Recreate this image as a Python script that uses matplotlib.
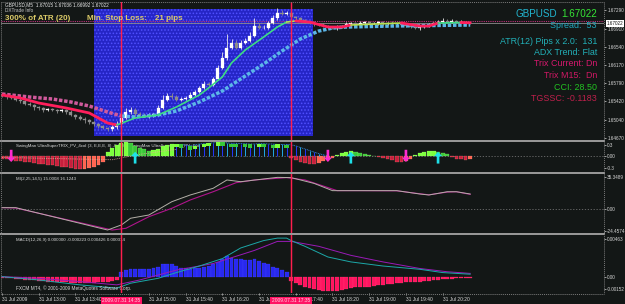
import numpy as np
import matplotlib
matplotlib.use("Agg")
import matplotlib.pyplot as plt
from matplotlib.patches import Rectangle
from matplotlib.lines import Line2D
import matplotlib.transforms as mtransforms

plt.rcParams['font.family'] = ['Liberation Sans', 'DejaVu Sans']
plt.rcParams['hatch.linewidth'] = 0.7

# ---------------- data ----------------
first_open = 1.6555
closes = [1.6553, 1.6551, 1.6549, 1.6545, 1.6543, 1.6537, 1.6535, 1.6530, 1.6528, 1.6524,
          1.6526, 1.6524, 1.6522, 1.6524, 1.6520, 1.6514, 1.6510, 1.6506, 1.6504, 1.6499,
          1.6495, 1.6491, 1.6487, 1.6485, 1.6489,
          1.6495, 1.6507, 1.6519, 1.6524, 1.6515, 1.6514, 1.6511, 1.6514, 1.6515, 1.6528,
          1.6545, 1.6553, 1.6551, 1.6545, 1.6547, 1.6549, 1.6555, 1.6561, 1.6569, 1.6577,
          1.6575, 1.6588, 1.6611, 1.6631, 1.6652, 1.6662, 1.6652, 1.6662, 1.6666, 1.6676,
          1.6697, 1.6693, 1.6693, 1.6703, 1.6713, 1.6724, 1.6722, 1.6724,
          1.6715, 1.6713, 1.6709, 1.6705, 1.6703, 1.6701, 1.6699, 1.6697, 1.6695, 1.6692,
          1.6695, 1.6697, 1.6701, 1.6703, 1.6701, 1.6703, 1.6705, 1.6703, 1.6703, 1.6705,
          1.6703, 1.6703, 1.6701, 1.6701, 1.6699, 1.6697, 1.6695, 1.6692, 1.6695, 1.6697,
          1.6699, 1.6703, 1.6705, 1.6707, 1.6705, 1.6707, 1.6705, 1.6705, 1.6703, 1.67022]
wick_hi_pips = [3, 2, 3, 2, 3, 2, 4, 2, 3, 2, 3, 2, 2, 3, 2, 3, 2, 4, 3, 2, 3, 2, 3, 2, 4,
                6, 8, 10, 6, 5, 4, 3, 4, 3, 6, 10, 6, 5, 4, 3, 4, 6, 4, 5, 6, 4, 3, 6, 12, 28,
                8, 6, 5, 6, 8, 16, 6, 5, 4, 6, 10, 6, 4,
                3, 2, 3, 2, 2, 3, 2, 3, 2, 2, 3, 2, 3, 2, 2, 4, 2, 3, 2, 3, 2, 2, 3, 2, 4, 3,
                2, 3, 2, 2, 3, 2, 5, 6, 4, 5, 3, 4, 3, 2]
wick_lo_pips = [3, 4, 3, 2, 4, 3, 2, 5, 3, 4, 2, 3, 4, 3, 5, 3, 4, 3, 6, 3, 4, 5, 3, 4, 5,
                4, 3, 2, 3, 4, 3, 2, 3, 4, 3, 2, 3, 4, 2, 3, 2, 3, 2, 3, 2, 3, 2, 3, 2, 4,
                3, 2, 3, 2, 3, 2, 3, 2, 3, 2, 3, 2, 3,
                2, 3, 2, 3, 2, 4, 3, 2, 3, 2, 3, 2, 3, 2, 3, 2, 4, 3, 2, 5, 6, 4, 3, 2, 3, 2,
                3, 2, 3, 2, 3, 2, 2, 3, 2, 3, 2, 3, 2, 2]

# fast moving average (polyline vertices) and its colour states
fast_ma_i = [0, 4, 8, 14, 19, 23, 25, 29, 34, 38, 43, 45, 48, 50, 53, 57, 60, 62, 64, 67,
             71, 74, 76, 87, 91, 93, 95, 100, 102]
fast_ma_v = [1.65549, 1.65487, 1.65384, 1.65281, 1.65179, 1.64973, 1.64932, 1.65076, 1.65137,
             1.65302, 1.65549, 1.65693, 1.65919, 1.66207, 1.66474, 1.66741, 1.66947, 1.67049,
             1.67070, 1.67049, 1.66947, 1.66947, 1.66988, 1.67029, 1.66967, 1.66967, 1.67029,
             1.67039, 1.67033]
fast_ma_states = [(0, 25, 'down'), (25, 62, 'up'), (62, 64, 'flat'), (64, 76, 'down'),
                  (76, 87, 'flat'), (87, 95, 'down'), (95, 100, 'up'), (100, 102, 'down')]

# slow moving average (square-dot line)
slow_ma_i = [0, 6, 11, 15, 19, 23, 26, 29, 34, 38, 43, 48, 52, 57, 61, 65, 69, 72, 75, 85, 102]
slow_ma_v = [1.65569, 1.65507, 1.65466, 1.65405, 1.65322, 1.65199, 1.65117, 1.65096, 1.65137,
             1.65220, 1.65405, 1.65631, 1.65878, 1.66186, 1.66453, 1.66700, 1.66864, 1.66926,
             1.66947, 1.66967, 1.66988]
slow_ma_turn = 26

box_i = (20.0, 67.8)
box_price = (1.64706, 1.67317)
bid = 1.67022
ask = 1.67075
vline_i = [26, 63]
vline_labels = ['2009.07.31 14:35', '2009.07.31 17:35']

price_ticks = [1.67290, 1.66910, 1.66540, 1.66170, 1.65790, 1.65420, 1.65040, 1.64670]
time_ticks_i = [0, 8, 16, 32, 40, 48, 56, 64, 72, 80, 88, 96]
time_labels = ['31 Jul 2009', '31 Jul 13:00', '31 Jul 13:40', '31 Jul 15:00',
               '31 Jul 15:40', '31 Jul 16:20', '31 Jul 17:00', '31 Jul 17:40', '31 Jul 18:20',
               '31 Jul 19:00', '31 Jul 19:40', '31 Jul 20:20']

# TRIX panel
trix_hist = [-0.06, -0.07, -0.09, -0.11, -0.12, -0.14, -0.16, -0.18, -0.19, -0.21, -0.22, -0.24,
             -0.25, -0.27, -0.29, -0.31, -0.33, -0.34, -0.33, -0.31, -0.27, -0.22, -0.15,
             0.12, 0.22, 0.30, 0.35, 0.37, 0.35, 0.28, 0.22, 0.18, 0.15, 0.16, 0.20, 0.26, 0.30,
             0.32, 0.33, 0.31, 0.28, 0.26, 0.28, 0.31, 0.33, 0.35, 0.36, 0.37, 0.36, 0.34, 0.33,
             0.32, 0.33, 0.32, 0.31, 0.32, 0.33, 0.32, 0.31, 0.30, 0.31, 0.32, 0.30,
             -0.05, -0.10, -0.14, -0.18, -0.20, -0.20, -0.17, -0.13, -0.08, -0.04,
             0.03, 0.08, 0.12, 0.14, 0.12, 0.08, 0.05, 0.03, 0.02, -0.02,
             -0.04, -0.06, -0.10, -0.14, -0.16, -0.12, -0.06, 0.03, 0.08, 0.12,
             0.14, 0.15, 0.12, 0.08, 0.05, -0.03, -0.06, -0.08, -0.09, -0.07]
trix_line_start = 38
trix_line = [0.30, 0.31, 0.29, 0.28, 0.30, 0.32, 0.33, 0.34, 0.35, 0.36,
             0.36, 0.35, 0.34, 0.34, 0.33, 0.33, 0.32, 0.32, 0.33, 0.33,
             0.32, 0.32, 0.31, 0.31, 0.31, 0.30, 0.27, 0.23, 0.19, 0.15,
             0.11, 0.07, 0.04, 0.01]
trix_sig_i = [0, 12, 24, 30, 38]
trix_sig_v = [-0.03, -0.06, -0.09, 0.05, 0.18]
arrow_i = [2, 29, 71, 76, 88, 95]
arrow_dir = ['dn', 'up', 'dn', 'up', 'dn', 'up']

# MI panel
mi_a_i = [0, 3, 23, 26, 28, 32, 37, 41, 46, 49, 52, 60, 63, 68, 72, 78, 86, 91, 93, 97, 99, 102]
mi_a_v = [1.8, 1.8, -22.9, -17.3, -9.9, -6.3, 8.4, 15.8, 23.2, 32.4, 30.5, 35.3, 35.0, 28.6,
          20.6, 20.6, 20.6, 16.9, 15.8, 19.4, 19.4, 16.9]
mi_b_i = [0, 3, 24, 27, 32, 37, 41, 46, 51, 55, 62, 66, 70, 73, 78, 86, 91, 93, 97, 99, 102]
mi_b_v = [1.8, 1.4, -22.9, -21.0, -8.2, 1.1, 10.3, 19.4, 29.4, 32.4, 35.0, 32.4, 25.7, 20.6,
          20.6, 20.4, 17.2, 16.0, 19.0, 19.4, 16.5]

# MACD panel
macd_hist = [-0.00015, -0.0002, -0.0002, -0.00025, -0.0003, -0.00035, -0.0004, -0.00045,
             -0.0005, -0.00055, -0.0006, -0.0006, -0.00065, -0.0007, -0.0007, -0.00075,
             -0.00075, -0.0008, -0.0008, -0.0008, -0.00075, -0.0007, -0.00065, -0.0006,
             -0.0005, -0.0004,
             0.0006, 0.0008, 0.0009, 0.0009, 0.0009, 0.0009, 0.0009, 0.0010, 0.0012, 0.0015,
             0.0016, 0.0015, 0.0013, 0.0011, 0.0010, 0.0009, 0.0010, 0.0011, 0.0012, 0.0013,
             0.0015, 0.0018, 0.0022, 0.0025, 0.0023, 0.0022, 0.0021, 0.0020, 0.0020, 0.0021,
             0.0019, 0.0017, 0.0015, 0.0012, 0.0011, 0.0008, 0.0006,
             -0.0005, -0.0008, -0.0010, -0.0012, -0.0014, -0.0015, -0.0016, -0.0017, -0.0018,
             -0.0018, -0.0017, -0.0016, -0.0015, -0.0014, -0.0013, -0.0013, -0.0012, -0.0012,
             -0.0011, -0.0010, -0.0010, -0.0009, -0.0009, -0.0008, -0.0008, -0.0007, -0.0007,
             -0.0006, -0.0006, -0.0005, -0.0005, -0.0004, -0.0004, -0.0003, -0.0003, -0.0003,
             -0.0002, -0.0002, -0.0002, -0.0002]
macd_main_i = [0, 8, 17, 25, 28, 34, 38, 43, 48, 52, 57, 60, 62, 63, 66, 71, 76, 83, 91, 96, 102]
macd_main_v = [0.0, -0.0004, -0.0010, -0.0014, -0.0008, -0.0002, 0.0005, 0.0013, 0.0022, 0.0035,
               0.0044, 0.0047, 0.0047, 0.0044, 0.0037, 0.0024, 0.0018, 0.0013, 0.0009, 0.0005,
               0.0003]
macd_sig_i = [0, 8, 17, 25, 30, 38, 46, 55, 60, 63, 69, 76, 83, 91, 97, 102]
macd_sig_v = [0.0, -0.0002, -0.0006, -0.0010, -0.0004, 0.0008, 0.0016, 0.0032, 0.0043, 0.0043,
              0.0037, 0.0026, 0.0018, 0.0010, 0.0006, 0.0004]

# ---------------- layout helpers ----------------
W, H = 625, 304
BG = '#131716'
TXT = '#d8d8d8'
XMIN, XMAX = -0.218, 131.15

fig = plt.figure(figsize=(W / 100, H / 100), dpi=100, facecolor=BG)


def add_panel(y_top, y_bot, ylim):
    ax = fig.add_axes([1 / W, 1 - y_bot / H, 603 / W, (y_bot - y_top) / H])
    ax.set_facecolor(BG)
    for s in ax.spines.values():
        s.set_visible(False)
    ax.set_xlim(XMIN, XMAX)
    ax.set_ylim(*ylim)
    ax.tick_params(axis='x', bottom=False, labelbottom=False)
    ax.yaxis.tick_right()
    ax.tick_params(axis='y', direction='out', length=1.5, width=0.5, pad=0.8,
                   labelsize=3.3, colors=TXT)
    return ax


def ftext(x, y, s, **kw):
    fig.text(x / W, 1 - y / H, s, **kw)


ax_main = add_panel(2, 140, (1.64623, 1.67461))
ax_trix = add_panel(142, 172, (-0.410, 0.373))
ax_mi = add_panel(174, 233, (-26.2, 39.0))
ax_macd = add_panel(235, 293, (-0.00199, 0.00508))

# ---------------- main panel ----------------
x = np.arange(len(closes))
c = np.array(closes)
o = np.r_[first_open, c[:-1]]
top = np.maximum(o, c)
bot = np.minimum(o, c)
hi = top + np.array(wick_hi_pips) * 0.0001
lo = bot - np.array(wick_lo_pips) * 0.0001
up = c >= o

ax_main.add_patch(Rectangle((box_i[0], box_price[0]), box_i[1] - box_i[0],
                            box_price[1] - box_price[0], facecolor='#2525c6',
                            edgecolor='#5050ff', hatch='.....', lw=0, zorder=0.5))

ax_main.vlines(x[up], lo[up], hi[up], color='#e8e8e8', lw=0.6, zorder=2)
ax_main.vlines(x[~up], lo[~up], hi[~up], color='#8c8c8c', lw=0.6, zorder=2)
ax_main.bar(x[up], np.maximum(top[up] - bot[up], 0.00005), bottom=bot[up], width=0.66,
            color='#ffffff', edgecolor='#ffffff', lw=0.2, zorder=2.2)
ax_main.bar(x[~up], np.maximum(top[~up] - bot[~up], 0.00005), bottom=bot[~up], width=0.66,
            color='#8a8a8a', edgecolor='#9a9a9a', lw=0.2, zorder=2.2)

si = np.array(slow_ma_i)
sv = np.array(slow_ma_v)
m1 = si <= slow_ma_turn
m2 = si >= slow_ma_turn
ax_main.plot(si[m1], sv[m1], color='#d05a9c', lw=2.5, dashes=(1.0, 0.5),
             dash_capstyle='butt', zorder=3)
ax_main.plot(si[m2], sv[m2], color='#5cb6e8', lw=2.5, dashes=(1.0, 0.5),
             dash_capstyle='butt', zorder=3)

fi = np.array(fast_ma_i)
fv = np.array(fast_ma_v)
state_style = {'down': ('#ff1f5c', 2.0), 'up': ('#3ddc84', 1.2), 'flat': ('#b8e050', 1.2)}
for a, b, st in fast_ma_states:
    m = (fi >= a) & (fi <= b)
    col, lw = state_style[st]
    ax_main.plot(fi[m], fv[m], color=col, lw=lw, solid_capstyle='round', zorder=4)

ax_main.axhline(bid, color='#8c8c8c', lw=0.6, zorder=1)
ax_main.axhline(ask, color='#c0307a', lw=0.8, ls=(0, (1, 1)), zorder=1)

ax_main.set_yticks(price_ticks)
ax_main.set_yticklabels([f'{p:.5f}' for p in price_ticks])
ax_main.text(1.004, bid, f'{bid:.5f}', transform=ax_main.get_yaxis_transform(),
             fontsize=3.3, color='#101010', va='center', ha='left',
             bbox=dict(boxstyle='square,pad=0.15', fc='white', ec='none'), clip_on=False,
             zorder=6)

# ---------------- TRIX panel ----------------
th = np.array(trix_hist)
tx = np.arange(len(th))
line_x = np.arange(trix_line_start, trix_line_start + len(trix_line))
tl = np.array(trix_line)
ax_trix.axhline(0, color='#707070', lw=0.6, ls=(0, (1.5, 2)), zorder=1)
ax_trix.text(3, 0.33, 'SwingMan UltraSuperTRIX_PV_4col (3, E,E,E, 8) -0.2546  '
             'SwingMan UltraSuperTRIX_PV_4col', fontsize=3.2, color=TXT, va='top',
             ha='left', zorder=1.5)
for k, v in zip(tx, th):
    if v < 0:
        prev = th[k - 1] if k > 0 else 0
        col = '#c81e3c' if v <= prev else '#ff6450'
        ax_trix.bar(k, v, width=0.8, color=col, edgecolor='#ff9a8a', lw=0.15, zorder=2)
for k, v in zip(line_x, tl):
    col = '#2438ff' if k % 2 == 0 else '#22a8e8'
    ax_trix.vlines(k, 0, v, color=col, lw=0.7, zorder=2)
ax_trix.plot(line_x, tl, color='#3aa0ff', lw=0.6, ls=(0, (1, 1)), zorder=2.5)
for k, v in zip(tx, th):
    if v > 0:
        prev = th[k - 1] if k > 0 else 0
        col = '#7cff3c' if v >= prev else '#38c838'
        if trix_line_start <= k < trix_line_start + len(trix_line):
            if k % 3 != 1:
                ax_trix.bar(k, 0.09, bottom=v - 0.09, width=0.95, color=col, lw=0, zorder=3)
        else:
            ax_trix.bar(k, v, width=0.9, color=col, edgecolor='#b0ff80', lw=0.15, zorder=3)
ax_trix.plot(trix_sig_i, trix_sig_v, color='#e8a898', lw=0.6, ls=(0, (1, 1.2)), zorder=3.5)
for k, d in zip(arrow_i, arrow_dir):
    if d == 'up':
        col, tail, head = '#1ee0e8', -0.19, 0.12
    else:
        col, tail, head = '#ff2ad0', 0.17, -0.15
    ax_trix.annotate('', xy=(k, head), xytext=(k, tail),
                     arrowprops=dict(arrowstyle='simple,head_length=0.55,head_width=1.0,'
                                                'tail_width=0.32',
                                     color=col, shrinkA=0, shrinkB=0, mutation_scale=6,
                                     lw=0),
                     zorder=4)
ax_trix.set_yticks([0.3, 0.0, -0.3])
ax_trix.set_yticklabels(['0.3', '0.00', '-0.3'])

# ---------------- MI panel ----------------
ax_mi.axhline(0, color='#707070', lw=0.6, ls=(0, (1.5, 2)), zorder=1)
ax_mi.plot(mi_b_i, mi_b_v, color='#b0148c', lw=0.8, zorder=2)
ax_mi.plot(mi_a_i, mi_a_v, color='#b4b0a8', lw=0.7, zorder=2.5)
ax_mi.text(3, 36.0, 'MI(2,25,14,5) 15.0008 16.1243', fontsize=3.2, color=TXT,
           va='top', ha='left')
ax_mi.set_yticks([35.3489, 0.0, -24.4574])
ax_mi.set_yticklabels(['35.3489', '0.00', '-24.4574'])

# ---------------- MACD panel ----------------
mh = np.array(macd_hist)
mx = np.arange(len(mh))
pos = mh > 0
ax_macd.bar(mx[pos], mh[pos], width=0.85, color='#2828f0', edgecolor='#5050ff', lw=0.15,
            zorder=2)
ax_macd.bar(mx[~pos], mh[~pos], width=0.85, color='#ff1460', edgecolor='#ff5080', lw=0.15,
            zorder=2)
ax_macd.plot(macd_sig_i, macd_sig_v, color='#9a1ab8', lw=0.7, zorder=3)
ax_macd.plot(macd_main_i, macd_main_v, color='#1ca8a8', lw=0.7, zorder=3.2)
ax_macd.text(3, 0.00475, 'MACD(12,26,9) 0.000000 -0.000223 0.000426 0.000314', fontsize=3.2,
             color=TXT, va='top', ha='left')
ax_macd.text(3, -0.00145, 'FXCM MT4, \u00a9 2001-2009 MetaQuotes Software Corp.', fontsize=3.4,
             color=TXT, va='center', ha='left', zorder=5)
ax_macd.set_yticks([0.00463, 0.0, -0.00152])
ax_macd.set_yticklabels(['0.00463', '0.00', '-0.00152'])

ax_macd.set_xticks(time_ticks_i)
ax_macd.set_xticklabels(time_labels, ha='left')
ax_macd.tick_params(axis='x', bottom=True, labelbottom=True, direction='out', length=1.5,
                    width=0.5, pad=1.5, labelsize=3.5, colors=TXT)
blend = mtransforms.blended_transform_factory(ax_macd.transData, ax_macd.transAxes)
for k, lab in zip(vline_i, vline_labels):
    ax_macd.text(k, -0.135, lab, transform=blend, fontsize=3.5, color='#ffd6e4',
                 ha='center', va='center', clip_on=False, zorder=10,
                 bbox=dict(boxstyle='square,pad=0.35', fc='#ff1464', ec='none'))

# vertical event lines through all panels
for ax in (ax_main, ax_trix, ax_mi, ax_macd):
    for k in vline_i:
        ax.axvline(k, color='#ff1e4e', lw=1.05, zorder=5)

# ---------------- frame & separators ----------------
def fline(x0, y0, x1, y1, **kw):
    fig.add_artist(Line2D([x0 / W, x1 / W], [1 - y0 / H, 1 - y1 / H],
                          transform=fig.transFigure, **kw))


for yy in (141, 173, 234):
    fline(1, yy, 604, yy, color='#9a9a9a', lw=1.4)
fline(1, 1.5, 604, 1.5, color='#7a7a7a', lw=0.7, ls=(0, (1, 1)))
fline(1, 293.5, 604, 293.5, color='#7a7a7a', lw=0.7, ls=(0, (1, 1)))
fline(1, 1.5, 1, 293.5, color='#7a7a7a', lw=0.7, ls=(0, (1, 1)))
fline(604, 1.5, 604, 293.5, color='#7a7a7a', lw=0.7, ls=(0, (1, 1)))

# ---------------- texts on main chart ----------------
ftext(5, 5, 'GBPUSD,M5  1.67015 1.67036 1.66992 1.67022', fontsize=3.4, color='#e8e8e8',
      va='center', ha='left')
ftext(5, 11, 'DXTrade Info', fontsize=3.4, color='#c8c8c8', va='center', ha='left')
ftext(5, 18.5, '300% of ATR (20)', fontsize=5.8, fontweight='bold', color='#dccb68',
      va='center', ha='left')
ftext(87, 18.5, 'Min. Stop Loss:', fontsize=5.8, fontweight='bold', color='#dccb68',
      va='center', ha='left')
ftext(155, 18.5, '21 pips', fontsize=5.8, fontweight='bold', color='#dccb68',
      va='center', ha='left')

ftext(597, 14, '1.67022', fontsize=7.1, color='#36e636', va='center', ha='right')
ftext(557, 14, 'GBPUSD', fontsize=7.1, color='#22b6d0', va='center', ha='right')
info = [('Spread:  53', 25, '#20a8c0'),
        ('ATR(12) Pips x 2.0:  131', 41.7, '#22b0b8'),
        ('ADX Trend: Flat', 52.7, '#22b0b8'),
        ('Trix Current: Dn', 64, '#d8186e'),
        ('Trix M15:  Dn', 75, '#d01864'),
        ('CCI: 28.50', 87.3, '#22c422'),
        ('TGSSC: -0.1183', 98.7, '#c0204c')]
for s, yy, col in info:
    ftext(597, yy, s, fontsize=6.4, color=col, va='center', ha='right')

fig.savefig('out.png', dpi=100, facecolor=BG)
